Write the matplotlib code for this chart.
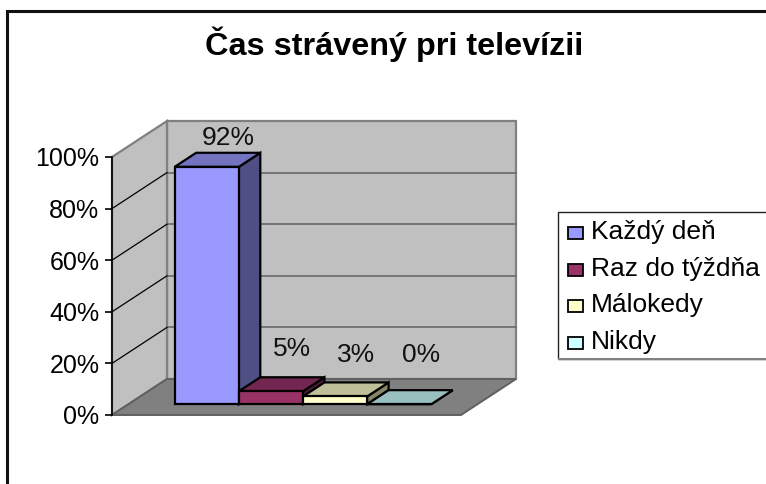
import matplotlib
matplotlib.use("Agg")
import matplotlib.pyplot as plt
from matplotlib.patches import Polygon, Rectangle

title = "Čas strávený pri televízii"
categories = ["Každý deň", "Raz do týždňa", "Málokedy", "Nikdy"]
values = [92, 5, 3, 0]
y_ticks = [0, 20, 40, 60, 80, 100]
y_tick_labels = ["0%", "20%", "40%", "60%", "80%", "100%"]
front_colors = ["#9999FF", "#993366", "#FFFFCC", "#CCFFFF"]
top_colors = ["#7373BF", "#732650", "#BFBF99", "#99BFBF"]
side_colors = ["#4F4F85", "#4F1A35", "#85856A", "#6A8585"]
label_lift = [10.5, 20, 20, 25]

W, H = 766, 484
plt.rcParams['font.family'] = ['Liberation Sans', 'DejaVu Sans']

fig = plt.figure(figsize=(W / 100, H / 100), dpi=100)
# axes = front plane of the fake 3d box, pixels
ax = fig.add_axes([112 / W, 1 - 415 / H, 349 / W, 258 / H])
ax.set_xlim(-0.72, 4.72)
ax.set_ylim(0, 100)

# shear for depth: d=1 is the back wall
unit_x = 349 / 5.44
unit_y = 258 / 100
depth_x = 55 / unit_x
depth_y = 36 / unit_y


def proj(x, v, d):
    return (x + d * depth_x, v + d * depth_y)


def face(pts, color, edge="black", lw=1.6, z=3):
    ax.add_patch(Polygon([proj(*p) for p in pts], closed=True, facecolor=color,
                         edgecolor=edge, linewidth=lw, clip_on=False, zorder=z,
                         joinstyle="miter"))


x0, x1 = ax.get_xlim()
# walls and floor
face([(x0, 0, 1), (x1, 0, 1), (x1, 100, 1), (x0, 100, 1)], "#C0C0C0", "#808080", 1.6, 1)
face([(x0, 0, 0), (x0, 0, 1), (x0, 100, 1), (x0, 100, 0)], "#C0C0C0", "#808080", 1.6, 1)
face([(x0, 0, 0), (x1, 0, 0), (x1, 0, 1), (x0, 0, 1)], "#808080", "#606060", 1.4, 1)

for t in y_ticks[1:-1]:
    ax.plot(*zip(proj(x0, t, 1), proj(x1, t, 1)), color="#707070", lw=1.3, zorder=2, clip_on=False)
    ax.plot(*zip(proj(x0, t, 0), proj(x0, t, 1)), color="black", lw=0.9, zorder=2, clip_on=False)

d_a, d_b = 0.3, 0.69
for i, v in enumerate(values):
    a, b = i, i + 1
    face([(b, 0, d_a), (b, 0, d_b), (b, v, d_b), (b, v, d_a)], side_colors[i], z=3 + i)
    face([(a, v, d_a), (b, v, d_a), (b, v, d_b), (a, v, d_b)], top_colors[i], z=3 + i)
    face([(a, 0, d_a), (b, 0, d_a), (b, v, d_a), (a, v, d_a)], front_colors[i], z=3 + i)
    lx, ly = proj(i + 0.5, v, d_b)
    ax.annotate(f"{v}%", (lx, ly), xytext=(0, label_lift[i]), textcoords="offset points",
                ha="center", va="center", fontsize=19, color="#111111",
                zorder=20, annotation_clip=False)

ax.set_yticks(y_ticks)
ax.set_yticklabels(y_tick_labels, fontsize=18)
ax.set_xticks([])
ax.tick_params(axis="y", length=5, width=1.2, pad=4)
for s in ["top", "right", "bottom"]:
    ax.spines[s].set_visible(False)
ax.spines["left"].set_linewidth(1.2)
ax.spines["left"].set_zorder(10)
ax.patch.set_visible(False)

fig.text(394 / W, 1 - 44 / H, title, ha="center", va="center", fontsize=23.3, fontweight="bold")

# chart border
fig.add_artist(Rectangle((7 / W, -0.05), 1.1, 1 - 11 / H + 0.05, transform=fig.transFigure,
                         fill=False, edgecolor="#111111", linewidth=2.2))

# legend box, built by hand to sit like the original
fig.add_artist(Rectangle((558 / W, 1 - 359 / H), 210 / W, 147 / H, transform=fig.transFigure,
                         facecolor="white", edgecolor="#222222", linewidth=1.0))
fig.add_artist(Rectangle((558 / W, 1 - 360 / H), 210 / W, 2 / H, transform=fig.transFigure,
                         facecolor="#808080", edgecolor="none"))
legend_y = [233, 270, 306, 342.5]
for name, col, ly in zip(categories, front_colors, legend_y):
    fig.add_artist(Rectangle((568 / W, 1 - (ly + 6) / H), 14.5 / W, 12 / H, transform=fig.transFigure,
                             facecolor=col, edgecolor="black", linewidth=1.3))
    fig.text(591 / W, 1 - (ly - 1) / H, name, ha="left", va="center", fontsize=19)

fig.savefig("out.png", dpi=100)
